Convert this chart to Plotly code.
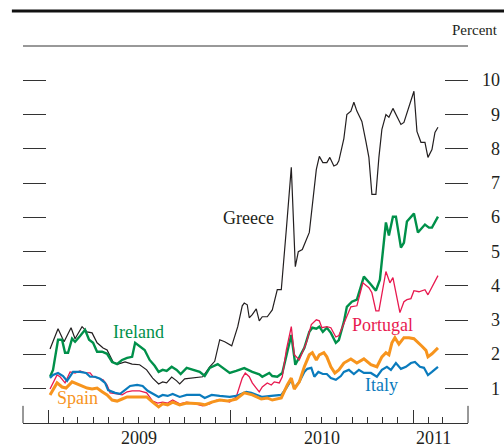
import pandas as pd
import plotly.graph_objects as go

FONT = "Liberation Serif"

# (date, percent) readings for each series
greece = [
    ("2009-01-05", 2.16), ("2009-01-21", 2.75), ("2009-02-02", 2.37), ("2009-02-16", 2.78),
    ("2009-02-24", 2.46), ("2009-03-10", 2.81), ("2009-03-20", 2.66), ("2009-03-30", 2.63),
    ("2009-04-09", 2.34), ("2009-04-21", 2.19), ("2009-04-29", 2.13), ("2009-05-11", 1.78),
    ("2009-05-21", 1.72), ("2009-06-04", 1.78), ("2009-06-18", 1.72), ("2009-07-03", 1.70),
    ("2009-07-17", 1.55), ("2009-07-29", 1.31), ("2009-08-10", 1.14), ("2009-08-18", 1.20),
    ("2009-08-26", 1.17), ("2009-09-05", 1.34), ("2009-09-15", 1.23), ("2009-09-21", 1.14),
    ("2009-10-01", 1.29), ("2009-10-17", 1.31), ("2009-11-06", 1.35), ("2009-11-20", 1.64),
    ("2009-11-30", 1.80), ("2009-12-10", 2.43), ("2009-12-20", 2.37), ("2010-01-03", 2.25),
    ("2010-01-15", 2.81), ("2010-01-24", 3.42), ("2010-01-28", 3.50), ("2010-02-03", 3.45),
    ("2010-02-07", 3.07), ("2010-02-13", 3.16), ("2010-02-21", 3.33), ("2010-02-27", 2.98),
    ("2010-03-05", 3.10), ("2010-03-15", 3.10), ("2010-03-25", 3.30), ("2010-04-04", 3.89),
    ("2010-04-12", 3.89), ("2010-04-22", 5.64), ("2010-05-02", 7.46), ("2010-05-10", 4.56),
    ("2010-05-16", 5.00), ("2010-05-24", 5.06), ("2010-06-07", 5.56), ("2010-06-21", 7.40),
    ("2010-06-27", 7.78), ("2010-07-04", 7.60), ("2010-07-12", 7.60), ("2010-07-18", 7.75),
    ("2010-07-26", 7.50), ("2010-08-01", 7.54), ("2010-08-05", 7.65), ("2010-08-15", 8.30),
    ("2010-08-21", 9.00), ("2010-08-29", 9.10), ("2010-09-04", 9.36), ("2010-09-10", 9.10),
    ("2010-09-20", 8.80), ("2010-09-28", 8.22), ("2010-10-04", 7.75), ("2010-10-10", 6.67),
    ("2010-10-18", 6.67), ("2010-10-24", 7.75), ("2010-10-30", 8.57), ("2010-11-07", 9.00),
    ("2010-11-13", 8.92), ("2010-11-21", 9.18), ("2010-11-29", 8.95), ("2010-12-07", 8.71),
    ("2010-12-13", 8.77), ("2011-01-02", 9.68), ("2011-01-08", 8.51), ("2011-01-16", 8.19),
    ("2011-01-24", 8.19), ("2011-01-30", 7.75), ("2011-02-07", 7.98), ("2011-02-13", 8.48),
    ("2011-02-19", 8.63),
]

ireland = [
    ("2009-01-05", 1.35), ("2009-01-11", 1.55), ("2009-01-21", 2.43), ("2009-01-29", 2.43),
    ("2009-02-04", 2.05), ("2009-02-10", 2.05), ("2009-02-18", 2.46), ("2009-02-24", 2.37),
    ("2009-03-06", 2.54), ("2009-03-16", 2.72), ("2009-03-24", 2.43), ("2009-04-01", 2.34),
    ("2009-04-09", 2.08), ("2009-04-19", 2.08), ("2009-04-29", 2.02), ("2009-05-09", 1.78),
    ("2009-05-19", 1.72), ("2009-05-29", 1.84), ("2009-06-08", 1.90), ("2009-06-18", 1.93),
    ("2009-06-24", 2.34), ("2009-07-03", 2.25), ("2009-07-13", 2.13), ("2009-07-23", 1.84),
    ("2009-08-02", 1.67), ("2009-08-10", 1.49), ("2009-08-18", 1.55), ("2009-08-26", 1.52),
    ("2009-09-05", 1.64), ("2009-09-15", 1.55), ("2009-09-23", 1.43), ("2009-10-05", 1.61),
    ("2009-10-17", 1.55), ("2009-10-31", 1.49), ("2009-11-10", 1.37), ("2009-11-20", 1.61),
    ("2009-12-06", 1.72), ("2009-12-16", 1.62), ("2009-12-30", 1.46), ("2010-01-12", 1.52),
    ("2010-01-28", 1.60), ("2010-02-13", 1.49), ("2010-02-27", 1.42), ("2010-03-05", 1.35),
    ("2010-03-19", 1.46), ("2010-03-25", 1.37), ("2010-04-04", 1.35), ("2010-04-14", 1.46),
    ("2010-04-22", 1.93), ("2010-05-02", 2.57), ("2010-05-10", 1.70), ("2010-05-18", 1.90),
    ("2010-05-28", 2.19), ("2010-06-07", 2.66), ("2010-06-13", 2.78), ("2010-06-21", 2.75),
    ("2010-06-27", 2.81), ("2010-07-04", 2.66), ("2010-07-12", 2.78), ("2010-07-20", 2.63),
    ("2010-07-30", 2.34), ("2010-08-05", 2.42), ("2010-08-15", 2.95), ("2010-08-21", 3.39),
    ("2010-08-31", 3.54), ("2010-09-10", 3.60), ("2010-09-24", 4.27), ("2010-10-08", 4.04),
    ("2010-10-18", 3.86), ("2010-10-26", 4.18), ("2010-11-07", 5.85), ("2010-11-13", 5.47),
    ("2010-11-21", 6.02), ("2010-11-27", 6.02), ("2010-12-07", 5.12), ("2010-12-13", 5.26),
    ("2010-12-19", 5.88), ("2011-01-02", 6.11), ("2011-01-10", 5.56), ("2011-01-24", 5.79),
    ("2011-02-01", 5.70), ("2011-02-07", 5.70), ("2011-02-19", 6.02),
]

portugal = [
    ("2009-01-05", 0.99), ("2009-01-19", 1.40), ("2009-01-25", 1.35), ("2009-02-04", 1.17),
    ("2009-02-14", 1.49), ("2009-02-24", 1.46), ("2009-03-06", 1.52), ("2009-03-16", 1.46),
    ("2009-03-26", 1.46), ("2009-04-01", 1.35), ("2009-04-11", 1.31), ("2009-04-21", 1.26),
    ("2009-04-29", 1.11), ("2009-05-05", 0.88), ("2009-05-19", 0.85), ("2009-05-29", 0.82),
    ("2009-06-08", 0.91), ("2009-06-18", 0.94), ("2009-07-03", 0.94), ("2009-07-17", 0.88),
    ("2009-07-29", 0.64), ("2009-08-08", 0.58), ("2009-08-18", 0.61), ("2009-08-28", 0.58),
    ("2009-09-07", 0.67), ("2009-09-21", 0.56), ("2009-10-05", 0.61), ("2009-10-17", 0.58),
    ("2009-11-06", 0.50), ("2009-11-20", 0.56), ("2009-12-04", 0.67), ("2009-12-20", 0.66),
    ("2009-12-30", 0.61), ("2010-01-12", 0.76), ("2010-01-24", 1.31), ("2010-01-30", 1.46),
    ("2010-02-07", 1.35), ("2010-02-13", 1.17), ("2010-02-21", 1.02), ("2010-02-27", 0.91),
    ("2010-03-05", 1.05), ("2010-03-15", 1.17), ("2010-03-23", 1.11), ("2010-03-29", 1.20),
    ("2010-04-08", 1.17), ("2010-04-14", 1.35), ("2010-04-22", 2.13), ("2010-05-02", 2.81),
    ("2010-05-08", 1.99), ("2010-05-18", 1.84), ("2010-06-01", 2.34), ("2010-06-11", 2.87),
    ("2010-06-21", 3.01), ("2010-06-27", 2.98), ("2010-07-02", 2.78), ("2010-07-12", 2.81),
    ("2010-07-20", 2.78), ("2010-07-30", 2.51), ("2010-08-05", 2.55), ("2010-08-19", 3.07),
    ("2010-08-29", 3.39), ("2010-09-10", 3.42), ("2010-09-22", 4.09), ("2010-10-04", 3.95),
    ("2010-10-10", 3.80), ("2010-10-18", 3.27), ("2010-10-24", 3.27), ("2010-11-07", 4.42),
    ("2010-11-15", 4.09), ("2010-11-21", 4.24), ("2010-12-05", 3.22), ("2010-12-13", 3.54),
    ("2010-12-19", 3.60), ("2010-12-27", 3.63), ("2011-01-02", 3.86), ("2011-01-12", 3.83),
    ("2011-01-24", 3.89), ("2011-01-30", 3.74), ("2011-02-19", 4.30),
]

spain = [
    ("2009-01-05", 0.82), ("2009-01-19", 1.17), ("2009-01-29", 1.05), ("2009-02-06", 1.02),
    ("2009-02-18", 1.20), ("2009-02-28", 1.14), ("2009-03-10", 1.08), ("2009-03-20", 1.02),
    ("2009-03-30", 0.99), ("2009-04-09", 1.02), ("2009-04-19", 0.91), ("2009-04-29", 0.82),
    ("2009-05-09", 0.67), ("2009-05-19", 0.64), ("2009-05-29", 0.70), ("2009-06-08", 0.76),
    ("2009-06-20", 0.76), ("2009-07-03", 0.76), ("2009-07-17", 0.76), ("2009-07-29", 0.61),
    ("2009-08-10", 0.47), ("2009-08-18", 0.56), ("2009-08-28", 0.53), ("2009-09-07", 0.61),
    ("2009-09-21", 0.53), ("2009-10-05", 0.58), ("2009-10-17", 0.58), ("2009-10-31", 0.56),
    ("2009-11-10", 0.53), ("2009-11-24", 0.61), ("2009-12-10", 0.67), ("2009-12-26", 0.64),
    ("2010-01-04", 0.67), ("2010-01-12", 0.70), ("2010-01-28", 0.88), ("2010-02-13", 0.82),
    ("2010-03-03", 0.70), ("2010-03-15", 0.73), ("2010-03-25", 0.67), ("2010-04-12", 0.73),
    ("2010-04-24", 1.11), ("2010-05-02", 1.31), ("2010-05-08", 0.99), ("2010-05-18", 1.20),
    ("2010-05-28", 1.64), ("2010-06-07", 1.99), ("2010-06-13", 2.05), ("2010-06-21", 1.84),
    ("2010-06-27", 1.99), ("2010-07-06", 2.05), ("2010-07-12", 1.93), ("2010-07-20", 1.64),
    ("2010-07-28", 1.46), ("2010-08-05", 1.55), ("2010-08-15", 1.75), ("2010-08-29", 1.87),
    ("2010-09-10", 1.75), ("2010-09-24", 1.87), ("2010-10-08", 1.70), ("2010-10-20", 1.64),
    ("2010-10-30", 1.93), ("2010-11-07", 2.05), ("2010-11-13", 1.99), ("2010-11-19", 2.34),
    ("2010-11-25", 2.49), ("2010-12-03", 2.30), ("2010-12-13", 2.49), ("2010-12-23", 2.49),
    ("2011-01-02", 2.46), ("2011-01-12", 2.34), ("2011-01-18", 2.24), ("2011-01-26", 2.12),
    ("2011-01-30", 1.93), ("2011-02-07", 2.02), ("2011-02-19", 2.19),
]

italy = [
    ("2009-01-05", 1.31), ("2009-01-11", 1.40), ("2009-01-21", 1.46), ("2009-01-31", 1.37),
    ("2009-02-08", 1.23), ("2009-02-14", 1.35), ("2009-02-20", 1.49), ("2009-03-06", 1.49),
    ("2009-03-18", 1.46), ("2009-03-26", 1.35), ("2009-04-05", 1.35), ("2009-04-15", 1.29),
    ("2009-04-25", 1.17), ("2009-05-01", 0.96), ("2009-05-15", 0.88), ("2009-05-25", 0.85),
    ("2009-06-04", 0.96), ("2009-06-14", 1.08), ("2009-06-28", 1.11), ("2009-07-09", 1.08),
    ("2009-07-19", 0.94), ("2009-07-29", 0.85), ("2009-08-10", 0.76), ("2009-08-18", 0.82),
    ("2009-08-28", 0.79), ("2009-09-07", 0.85), ("2009-09-21", 0.76), ("2009-10-05", 0.82),
    ("2009-10-31", 0.82), ("2009-11-10", 0.73), ("2009-11-24", 0.82), ("2009-12-10", 0.79),
    ("2009-12-30", 0.76), ("2010-01-12", 0.79), ("2010-01-22", 0.85), ("2010-02-01", 0.91),
    ("2010-02-11", 0.88), ("2010-02-23", 0.82), ("2010-03-05", 0.76), ("2010-03-23", 0.79),
    ("2010-04-12", 0.82), ("2010-04-22", 1.02), ("2010-05-02", 1.26), ("2010-05-08", 1.02),
    ("2010-05-18", 1.20), ("2010-05-28", 1.49), ("2010-06-03", 1.58), ("2010-06-11", 1.61),
    ("2010-06-17", 1.35), ("2010-06-25", 1.49), ("2010-07-04", 1.43), ("2010-07-12", 1.43),
    ("2010-07-20", 1.31), ("2010-07-30", 1.26), ("2010-08-09", 1.37), ("2010-08-15", 1.49),
    ("2010-08-25", 1.55), ("2010-09-04", 1.43), ("2010-09-14", 1.55), ("2010-09-24", 1.46),
    ("2010-10-08", 1.46), ("2010-10-20", 1.35), ("2010-10-30", 1.55), ("2010-11-09", 1.64),
    ("2010-11-17", 1.55), ("2010-11-27", 1.75), ("2010-12-07", 1.58), ("2010-12-17", 1.64),
    ("2010-12-27", 1.75), ("2011-01-04", 1.78), ("2011-01-14", 1.64), ("2011-01-22", 1.61),
    ("2011-01-30", 1.40), ("2011-02-07", 1.49), ("2011-02-19", 1.64),
]

y_ticks = list(range(1, 11))
year_starts = ["2009-01-01", "2010-01-01", "2011-01-01"]
year_labels = ["2009", "2010", "2011"]
year_label_pos = ["2009-07-02", "2010-07-02", "2011-02-10"]
month_ticks = pd.date_range("2009-01-01", "2011-03-01", freq="MS")

# name, data, color, width, label position (date, value)
series = [
    ("Greece", greece, "#231f20", 1.2, ("2010-02-05", 5.98)),
    ("Ireland", ireland, "#00904a", 2.4, ("2009-06-30", 2.66)),
    ("Portugal", portugal, "#e8194f", 1.3, ("2010-11-01", 2.86)),
    ("Italy", italy, "#0a7bbd", 2.2, ("2010-10-30", 1.11)),
    ("Spain", spain, "#f7941d", 3.0, ("2009-02-28", 0.73)),
]

fig = go.Figure()
for name, data, color, width, _ in series:
    fig.add_trace(
        go.Scatter(
            x=[d for d, _ in data],
            y=[v for _, v in data],
            mode="lines",
            name=name,
            line=dict(color=color, width=width),
        )
    )

# empty trace so the mirrored left axis is drawn
fig.add_trace(go.Scatter(x=[], y=[], yaxis="y2", showlegend=False))

annotations = []
for name, _, color, _, (lx, ly) in series:
    annotations.append(
        dict(x=lx, y=ly, xref="x", yref="y", text=name, showarrow=False,
             font=dict(family=FONT, size=18, color=color))
    )
for v in y_ticks:
    annotations.append(
        dict(x=1.0764, y=v, xref="paper", yref="y", text=str(v), showarrow=False,
             xanchor="right", yanchor="middle",
             font=dict(family=FONT, size=18, color="#231f20"))
    )
for lbl, pos in zip(year_labels, year_label_pos):
    annotations.append(
        dict(x=pos, y=-0.04, xref="x", yref="paper", text=lbl, showarrow=False,
             yanchor="middle", font=dict(family=FONT, size=18, color="#231f20"))
    )
annotations.append(
    dict(x=1.072, y=1.042, xref="paper", yref="paper", text="Percent", showarrow=False,
         xanchor="right", yanchor="middle", font=dict(family=FONT, size=15, color="#231f20"))
)

shapes = [
    dict(type="line", xref="paper", yref="paper", x0=0, x1=1, y0=1, y1=1,
         line=dict(color="#333", width=1)),
    dict(type="line", xref="paper", yref="paper", x0=-0.025, x1=1.09, y0=1.093, y1=1.093,
         line=dict(color="#111", width=3)),
    dict(type="line", xref="paper", yref="y", x0=0, x1=0, y0=0, y1=0.5,
         line=dict(color="#333", width=1)),
    dict(type="line", xref="paper", yref="y", x0=1, x1=1, y0=0, y1=0.5,
         line=dict(color="#333", width=1)),
]

axis_y = dict(
    range=[0, 11], tickvals=y_ticks, ticks="inside", ticklen=23, tickcolor="#333",
    showticklabels=False, showgrid=False, zeroline=False, showline=False,
)

fig.update_layout(
    width=504,
    height=447,
    margin=dict(l=23, r=36, t=46, b=24),
    paper_bgcolor="white",
    plot_bgcolor="white",
    showlegend=False,
    font=dict(family=FONT, size=18, color="#231f20"),
    xaxis=dict(
        type="date",
        range=["2008-11-12", "2011-04-20"],
        tickvals=year_starts,
        ticks="inside",
        ticklen=13,
        tickcolor="#333",
        showticklabels=False,
        showgrid=False,
        zeroline=False,
        showline=True,
        linecolor="#333",
        linewidth=1,
        minor=dict(tickvals=list(month_ticks), ticks="inside", ticklen=6,
                   tickcolor="#333", showgrid=False),
    ),
    yaxis=dict(side="right", **axis_y),
    yaxis2=dict(side="left", overlaying="y", **axis_y),
    annotations=annotations,
    shapes=shapes,
)

# drop the page's default body margin so the figure sits at the window's corner
fig.write_html(
    "out.html",
    config={"displayModeBar": False},
    post_script="document.body.style.margin='0';document.body.style.overflow='hidden';",
)
